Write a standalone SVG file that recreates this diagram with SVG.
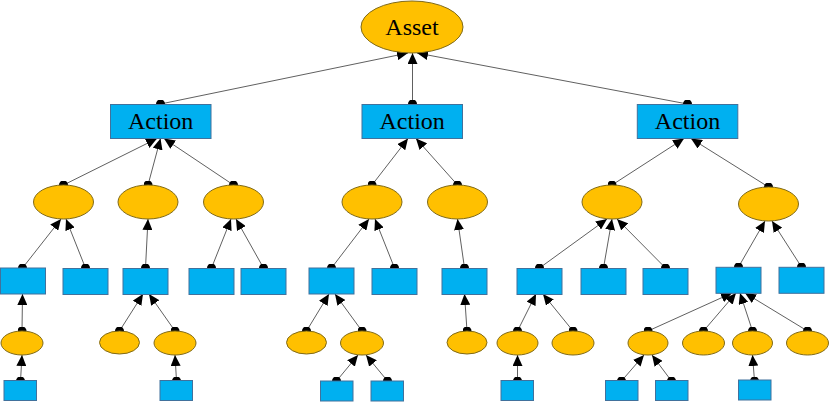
<svg xmlns="http://www.w3.org/2000/svg" width="830" height="402" viewBox="0 0 830 402">
<style>
.el{fill:#ffc000;stroke:#7f6a1a;stroke-width:1}
.bx{fill:#00b0f0;stroke:#41719c;stroke-width:1}
.lbl{font-family:"Liberation Serif","Times New Roman",serif;font-size:24px;fill:#000;text-anchor:middle}
.e{stroke:#606060;stroke-width:1;fill:none;marker-start:url(#dot);marker-end:url(#arr)}
</style>
<defs>
<marker id="arr" markerUnits="userSpaceOnUse" markerWidth="11" markerHeight="10" viewBox="0 0 11 10" refX="11" refY="5" orient="auto"><path d="M0,0 L11,5 L0,10 z" fill="#000"/></marker>
<marker id="dot" markerUnits="userSpaceOnUse" markerWidth="9" markerHeight="9" viewBox="0 0 9 9" refX="4.5" refY="4.5"><circle cx="4.5" cy="4.5" r="4.5" fill="#000"/></marker>
</defs>
<rect width="830" height="402" fill="#fff"/>
<g id="connectors">
<path class="e" d="M160.5,104 L408,53"/>
<path class="e" d="M412.5,104 L412.5,53"/>
<path class="e" d="M687.5,104 L417,53"/>
<path class="e" d="M63.5,185 L157,138.5"/>
<path class="e" d="M148,185 L160.5,138.5"/>
<path class="e" d="M233.5,185 L164,138.5"/>
<path class="e" d="M372,185 L408,138.5"/>
<path class="e" d="M457.5,185 L416,138.5"/>
<path class="e" d="M612,185 L684,138.5"/>
<path class="e" d="M768.5,187 L691,138.5"/>
<path class="e" d="M22.5,268 L61,219"/>
<path class="e" d="M85.5,268 L66,219"/>
<path class="e" d="M145.5,268 L148,219"/>
<path class="e" d="M211.5,268 L231,219"/>
<path class="e" d="M263.5,268 L236,219"/>
<path class="e" d="M331.5,268 L369,219"/>
<path class="e" d="M394.5,268 L375,219"/>
<path class="e" d="M464.5,268 L457.5,219"/>
<path class="e" d="M539.5,268 L607,219"/>
<path class="e" d="M603.5,268 L612,219"/>
<path class="e" d="M665.5,268 L617,219"/>
<path class="e" d="M738.5,267 L765,221"/>
<path class="e" d="M801.5,267 L772,221"/>
<path class="e" d="M22,331 L22.5,294"/>
<path class="e" d="M119.5,331 L143,294"/>
<path class="e" d="M175,331 L149,294"/>
<path class="e" d="M306.5,331 L329,294"/>
<path class="e" d="M362,331 L335,294"/>
<path class="e" d="M467,331 L464.5,294"/>
<path class="e" d="M517.5,331 L536,294"/>
<path class="e" d="M573,331 L543,294"/>
<path class="e" d="M648,331 L732,293"/>
<path class="e" d="M703.5,331 L736,293"/>
<path class="e" d="M752.5,331 L740,293"/>
<path class="e" d="M807.5,331 L745,293"/>
<path class="e" d="M20.5,381 L22,355"/>
<path class="e" d="M176.5,381 L175,355"/>
<path class="e" d="M336.5,381 L358,355"/>
<path class="e" d="M387.5,381 L366,355"/>
<path class="e" d="M517.5,381 L517.5,355"/>
<path class="e" d="M621.5,381 L644,355"/>
<path class="e" d="M671.5,381 L652,355"/>
<path class="e" d="M754.5,381 L752.5,355"/>
</g>
<g id="asset"><ellipse class="el" cx="412" cy="27" rx="51" ry="26"/><text class="lbl" x="412" y="35">Asset</text></g>
<g id="action1"><rect class="bx" x="110.5" y="104.5" width="100.5" height="34"/><text class="lbl" x="160.7" y="129.3">Action</text></g>
<g id="action2"><rect class="bx" x="362" y="104.5" width="100.5" height="34"/><text class="lbl" x="412.2" y="129.3">Action</text></g>
<g id="action3"><rect class="bx" x="637.3" y="104.5" width="100.5" height="34"/><text class="lbl" x="687.5" y="129.3">Action</text></g>
<g id="l2a"><ellipse class="el" cx="63.5" cy="202" rx="30" ry="17"/></g>
<g id="l2b"><ellipse class="el" cx="148" cy="202" rx="30" ry="17"/></g>
<g id="l2c"><ellipse class="el" cx="233.5" cy="202" rx="30" ry="17"/></g>
<g id="l2d"><ellipse class="el" cx="372" cy="202" rx="30" ry="17"/></g>
<g id="l2e"><ellipse class="el" cx="457.5" cy="202" rx="30" ry="17"/></g>
<g id="l2f"><ellipse class="el" cx="612" cy="202" rx="30" ry="17"/></g>
<g id="l2g"><ellipse class="el" cx="768.5" cy="204" rx="30" ry="17"/></g>
<g id="r1"><rect class="bx" x="0.5" y="268" width="45" height="26"/></g>
<g id="r2"><rect class="bx" x="63" y="268.5" width="45" height="26"/></g>
<g id="r3"><rect class="bx" x="123" y="268.5" width="45" height="26"/></g>
<g id="r4"><rect class="bx" x="189" y="268.5" width="45" height="26"/></g>
<g id="r5"><rect class="bx" x="241" y="268.5" width="45" height="26"/></g>
<g id="r6"><rect class="bx" x="309" y="268" width="45" height="26"/></g>
<g id="r7"><rect class="bx" x="372" y="268.5" width="45" height="26"/></g>
<g id="r8"><rect class="bx" x="442" y="268.5" width="45" height="26"/></g>
<g id="r9"><rect class="bx" x="517" y="268.5" width="45" height="26"/></g>
<g id="r10"><rect class="bx" x="581" y="268.5" width="45" height="26"/></g>
<g id="r11"><rect class="bx" x="643" y="268.5" width="45" height="26"/></g>
<g id="r12"><rect class="bx" x="716" y="267.3" width="45" height="26"/></g>
<g id="r13"><rect class="bx" x="779" y="267.3" width="45" height="26"/></g>
<g id="e1"><ellipse class="el" cx="22" cy="343" rx="21" ry="12"/></g>
<g id="e2"><ellipse class="el" cx="119.5" cy="342.5" rx="20" ry="11.5"/></g>
<g id="e3"><ellipse class="el" cx="175" cy="343" rx="21" ry="12"/></g>
<g id="e4"><ellipse class="el" cx="306.5" cy="342.5" rx="20" ry="11.5"/></g>
<g id="e5"><ellipse class="el" cx="362" cy="343" rx="21.5" ry="12"/></g>
<g id="e6"><ellipse class="el" cx="467" cy="342.5" rx="20" ry="11.5"/></g>
<g id="e7"><ellipse class="el" cx="517.5" cy="343" rx="20.5" ry="12"/></g>
<g id="e8"><ellipse class="el" cx="573" cy="343" rx="21" ry="12"/></g>
<g id="e9"><ellipse class="el" cx="648" cy="343" rx="20" ry="12"/></g>
<g id="e10"><ellipse class="el" cx="703.5" cy="343" rx="21" ry="12"/></g>
<g id="e11"><ellipse class="el" cx="752.5" cy="343" rx="20" ry="12"/></g>
<g id="e12"><ellipse class="el" cx="807.5" cy="343" rx="21" ry="12"/></g>
<g id="b1"><rect class="bx" x="4" y="380.5" width="32.5" height="20"/></g>
<g id="b2"><rect class="bx" x="160" y="380.5" width="32.5" height="20"/></g>
<g id="b3"><rect class="bx" x="320.5" y="381" width="32.5" height="20"/></g>
<g id="b4"><rect class="bx" x="371" y="381" width="32.5" height="20"/></g>
<g id="b5"><rect class="bx" x="501" y="380.5" width="32.5" height="20"/></g>
<g id="b6"><rect class="bx" x="605.5" y="380.5" width="32.5" height="20"/></g>
<g id="b7"><rect class="bx" x="655.5" y="380.5" width="32.5" height="20"/></g>
<g id="b8"><rect class="bx" x="738.5" y="380" width="32.5" height="20"/></g>
</svg>
